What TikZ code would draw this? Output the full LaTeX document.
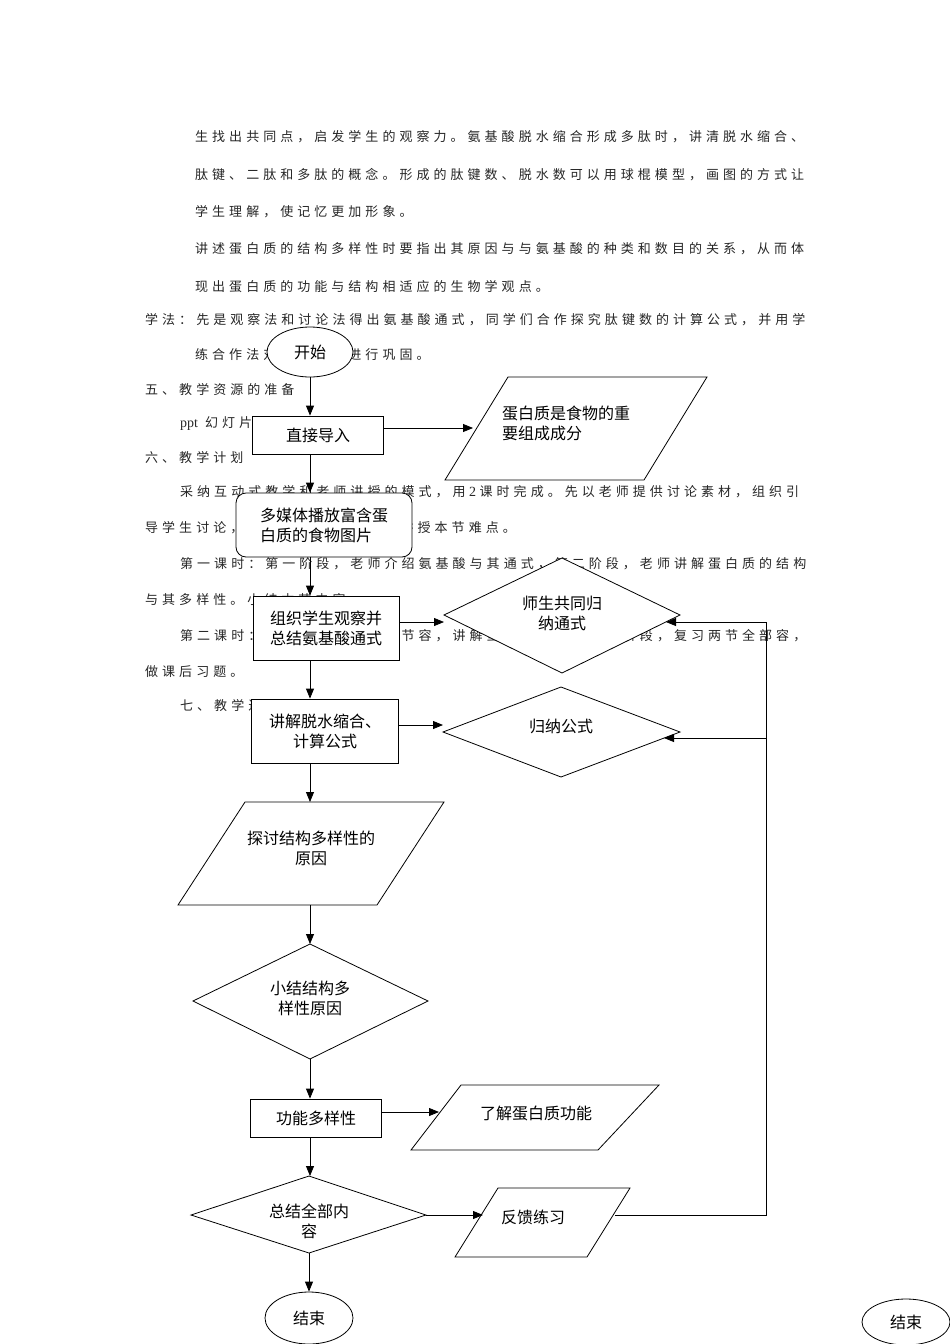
\documentclass[tikz,border=0pt]{standalone}
\usepackage{fontspec}
\usetikzlibrary{shapes.geometric,arrows.meta}
\newfontfamily\cjk{Noto Sans CJK SC}
\newfontfamily\bodyf[LetterSpace=31]{Noto Sans CJK SC}
\newfontfamily\latf{Liberation Serif}
\begin{document}
\begin{tikzpicture}[x=1pt,y=-1pt,
  body/.style={anchor=west,inner sep=0pt,text=black!85,font=\bodyf\fontsize{13}{13}\selectfont},
  box/.style={draw,fill=white,line width=0.8pt,align=center,inner sep=2pt,font=\cjk\fontsize{16}{20}\selectfont},
  shp/.style={draw,fill=white,line width=0.8pt},
  lbl/.style={align=center,inner sep=0pt,font=\cjk\fontsize{16}{20}\selectfont},
  ln/.style={line width=0.8pt},
  ar/.style={line width=0.8pt,-{Triangle[length=10pt,width=8pt]}}]
\useasboundingbox[fill=white] (0,0) rectangle (950,1344);
% background text
\node[body] (t1) at (195,137) {生找出共同点，启发学生的观察力。氨基酸脱水缩合形成多肽时，讲清脱水缩合、};
\node[body] (t2) at (195,175) {肽键、二肽和多肽的概念。形成的肽键数、脱水数可以用球棍模型，画图的方式让};
\node[body] (t3) at (195,212) {学生理解，使记忆更加形象。};
\node[body] (t4) at (195,249) {讲述蛋白质的结构多样性时要指出其原因与与氨基酸的种类和数目的关系，从而体};
\node[body] (t5) at (195,287) {现出蛋白质的功能与结构相适应的生物学观点。};
\node[body] (t6) at (145,320) {学法：先是观察法和讨论法得出氨基酸通式，同学们合作探究肽键数的计算公式，并用学};
\node[body] (t7) at (195,355) {练合作法对所学知识进行巩固。};
\node[body] (t8) at (145,390) {五、教学资源的准备};
\node[body] (t9) at (180,424) {{\latf\fontsize{14}{14}\selectfont ppt} 幻灯片};
\node[body] (t10) at (145,458) {六、教学计划};
\node[body] (t11) at (180,492) {采纳互动式教学和老师讲授的模式，用{\latf\fontsize{14}{14}\selectfont\ 2 }课时完成。先以老师提供讨论素材，组织引};
\node[body] (t12) at (145,528) {导学生讨论，再由老师归纳总结，讲授本节难点。};
\node[body] (t13) at (180,564) {第一课时：第一阶段，老师介绍氨基酸与其通式，第二阶段，老师讲解蛋白质的结构};
\node[body] (t14) at (145,600) {与其多样性。小结本节内容。};
\node[body] (t15) at (180,636) {第二课时：第一阶段，复习上节容，讲解蛋白质功能，第二阶段，复习两节全部容，};
\node[body] (t16) at (145,672) {做课后习题。};
\node[body] (t17) at (180,706) {七、教学过程};
% spine
\coordinate (sp) at (310,0);
% nodes
\node[box,ellipse,minimum width=86,minimum height=50] (start) at (310,352) {开始};
\node[box,minimum width=131,minimum height=38] (n1) at (318,435) {直接导入};
\draw[shp] (508,377) -- (707,377) -- (644,480) -- (445,480) -- cycle;
\coordinate (p1in) at (473,428);
\node[lbl,anchor=west,align=left] (p1) at (502,423) {蛋白质是食物的重\\要组成成分};
\node[box,rounded corners=10pt,minimum width=176,minimum height=64,align=left] (n2) at (324,525) {多媒体播放富含蛋\\白质的食物图片};
\node[box,minimum width=146,minimum height=64] (n3) at (326,628) {组织学生观察并\\总结氨基酸通式};
\draw[shp] (444,615) -- (562,558) -- (680,615) -- (562,673) -- cycle;
\coordinate (d1in) at (444,622); \coordinate (d1r) at (666,622);
\node[lbl] (d1) at (562,613) {师生共同归\\纳通式};
\node[box,minimum width=147,minimum height=64] (n4) at (325,731) {讲解脱水缩合、\\计算公式};
\draw[shp] (443,732) -- (561,687) -- (680,732) -- (561,777) -- cycle;
\coordinate (d2in) at (443,725); \coordinate (d2r) at (664,738);
\node[lbl] (d2) at (561,726) {归纳公式};
\draw[shp] (245,802) -- (444,802) -- (377,905) -- (178,905) -- cycle;
\coordinate (p2t) at (310,802); \coordinate (p2b) at (310,905);
\node[lbl] (p2) at (311,848) {探讨结构多样性的\\原因};
\draw[shp] (193,1001) -- (310,944) -- (428,1001) -- (310,1059) -- cycle;
\coordinate (d3t) at (310,944); \coordinate (d3b) at (310,1059);
\node[lbl] (d3) at (310,998) {小结结构多\\样性原因};
\node[box,minimum width=131,minimum height=38] (n5) at (316,1118) {功能多样性};
\draw[shp] (461,1085) -- (659,1085) -- (598,1150) -- (411,1150) -- cycle;
\coordinate (p3in) at (439,1112);
\node[lbl] (p3) at (536,1113) {了解蛋白质功能};
\draw[shp] (191,1215) -- (309,1176) -- (426,1215) -- (309,1253) -- cycle;
\coordinate (d4t) at (309,1176); \coordinate (d4b) at (309,1253); \coordinate (d4r) at (426,1215);
\node[lbl] (d4) at (309,1221) {总结全部内\\容};
\draw[shp] (498,1188) -- (630,1188) -- (587,1257) -- (455,1257) -- cycle;
\coordinate (p4in) at (483,1215); \coordinate (p4out) at (615,1215);
\node[lbl] (p4) at (533,1217) {反馈练习};
\node[box,ellipse,minimum width=88,minimum height=52] (end) at (309,1318) {结束};
\node[box,ellipse,minimum width=88,minimum height=46] (end2) at (906,1322) {结束};
\coordinate (fb1) at (766,1215); \coordinate (fb2) at (766,622); \coordinate (fb3) at (766,738);
% connectors
\draw[ar] (start.south -| sp) -- (n1.north -| sp);
\draw[ar] (n1.south -| sp) -- (n2.north -| sp);
\draw[ar] (n2.south -| sp) -- (n3.north -| sp);
\draw[ar] (n3.south -| sp) -- (n4.north -| sp);
\draw[ar] (n4.south -| sp) -- (p2t);
\draw[ar] (p2b) -- (d3t);
\draw[ar] (d3b) -- (n5.north -| sp);
\draw[ar] (n5.south -| sp) -- (d4t -| sp);
\draw[ar] (d4b) -- (end.north);
\draw[ar] (n1.east |- p1in) -- (p1in);
\draw[ar] (n3.east |- d1in) -- (d1in);
\draw[ar] (n4.east |- d2in) -- (d2in);
\draw[ar] (n5.east |- p3in) -- (p3in);
\draw[ar] (d4r) -- (p4in);
\draw[ln] (p4out) -- (fb1) -- (fb2);
\draw[ar] (fb2) -- (d1r);
\draw[ar] (fb3) -- (d2r);
\end{tikzpicture}
\end{document}
